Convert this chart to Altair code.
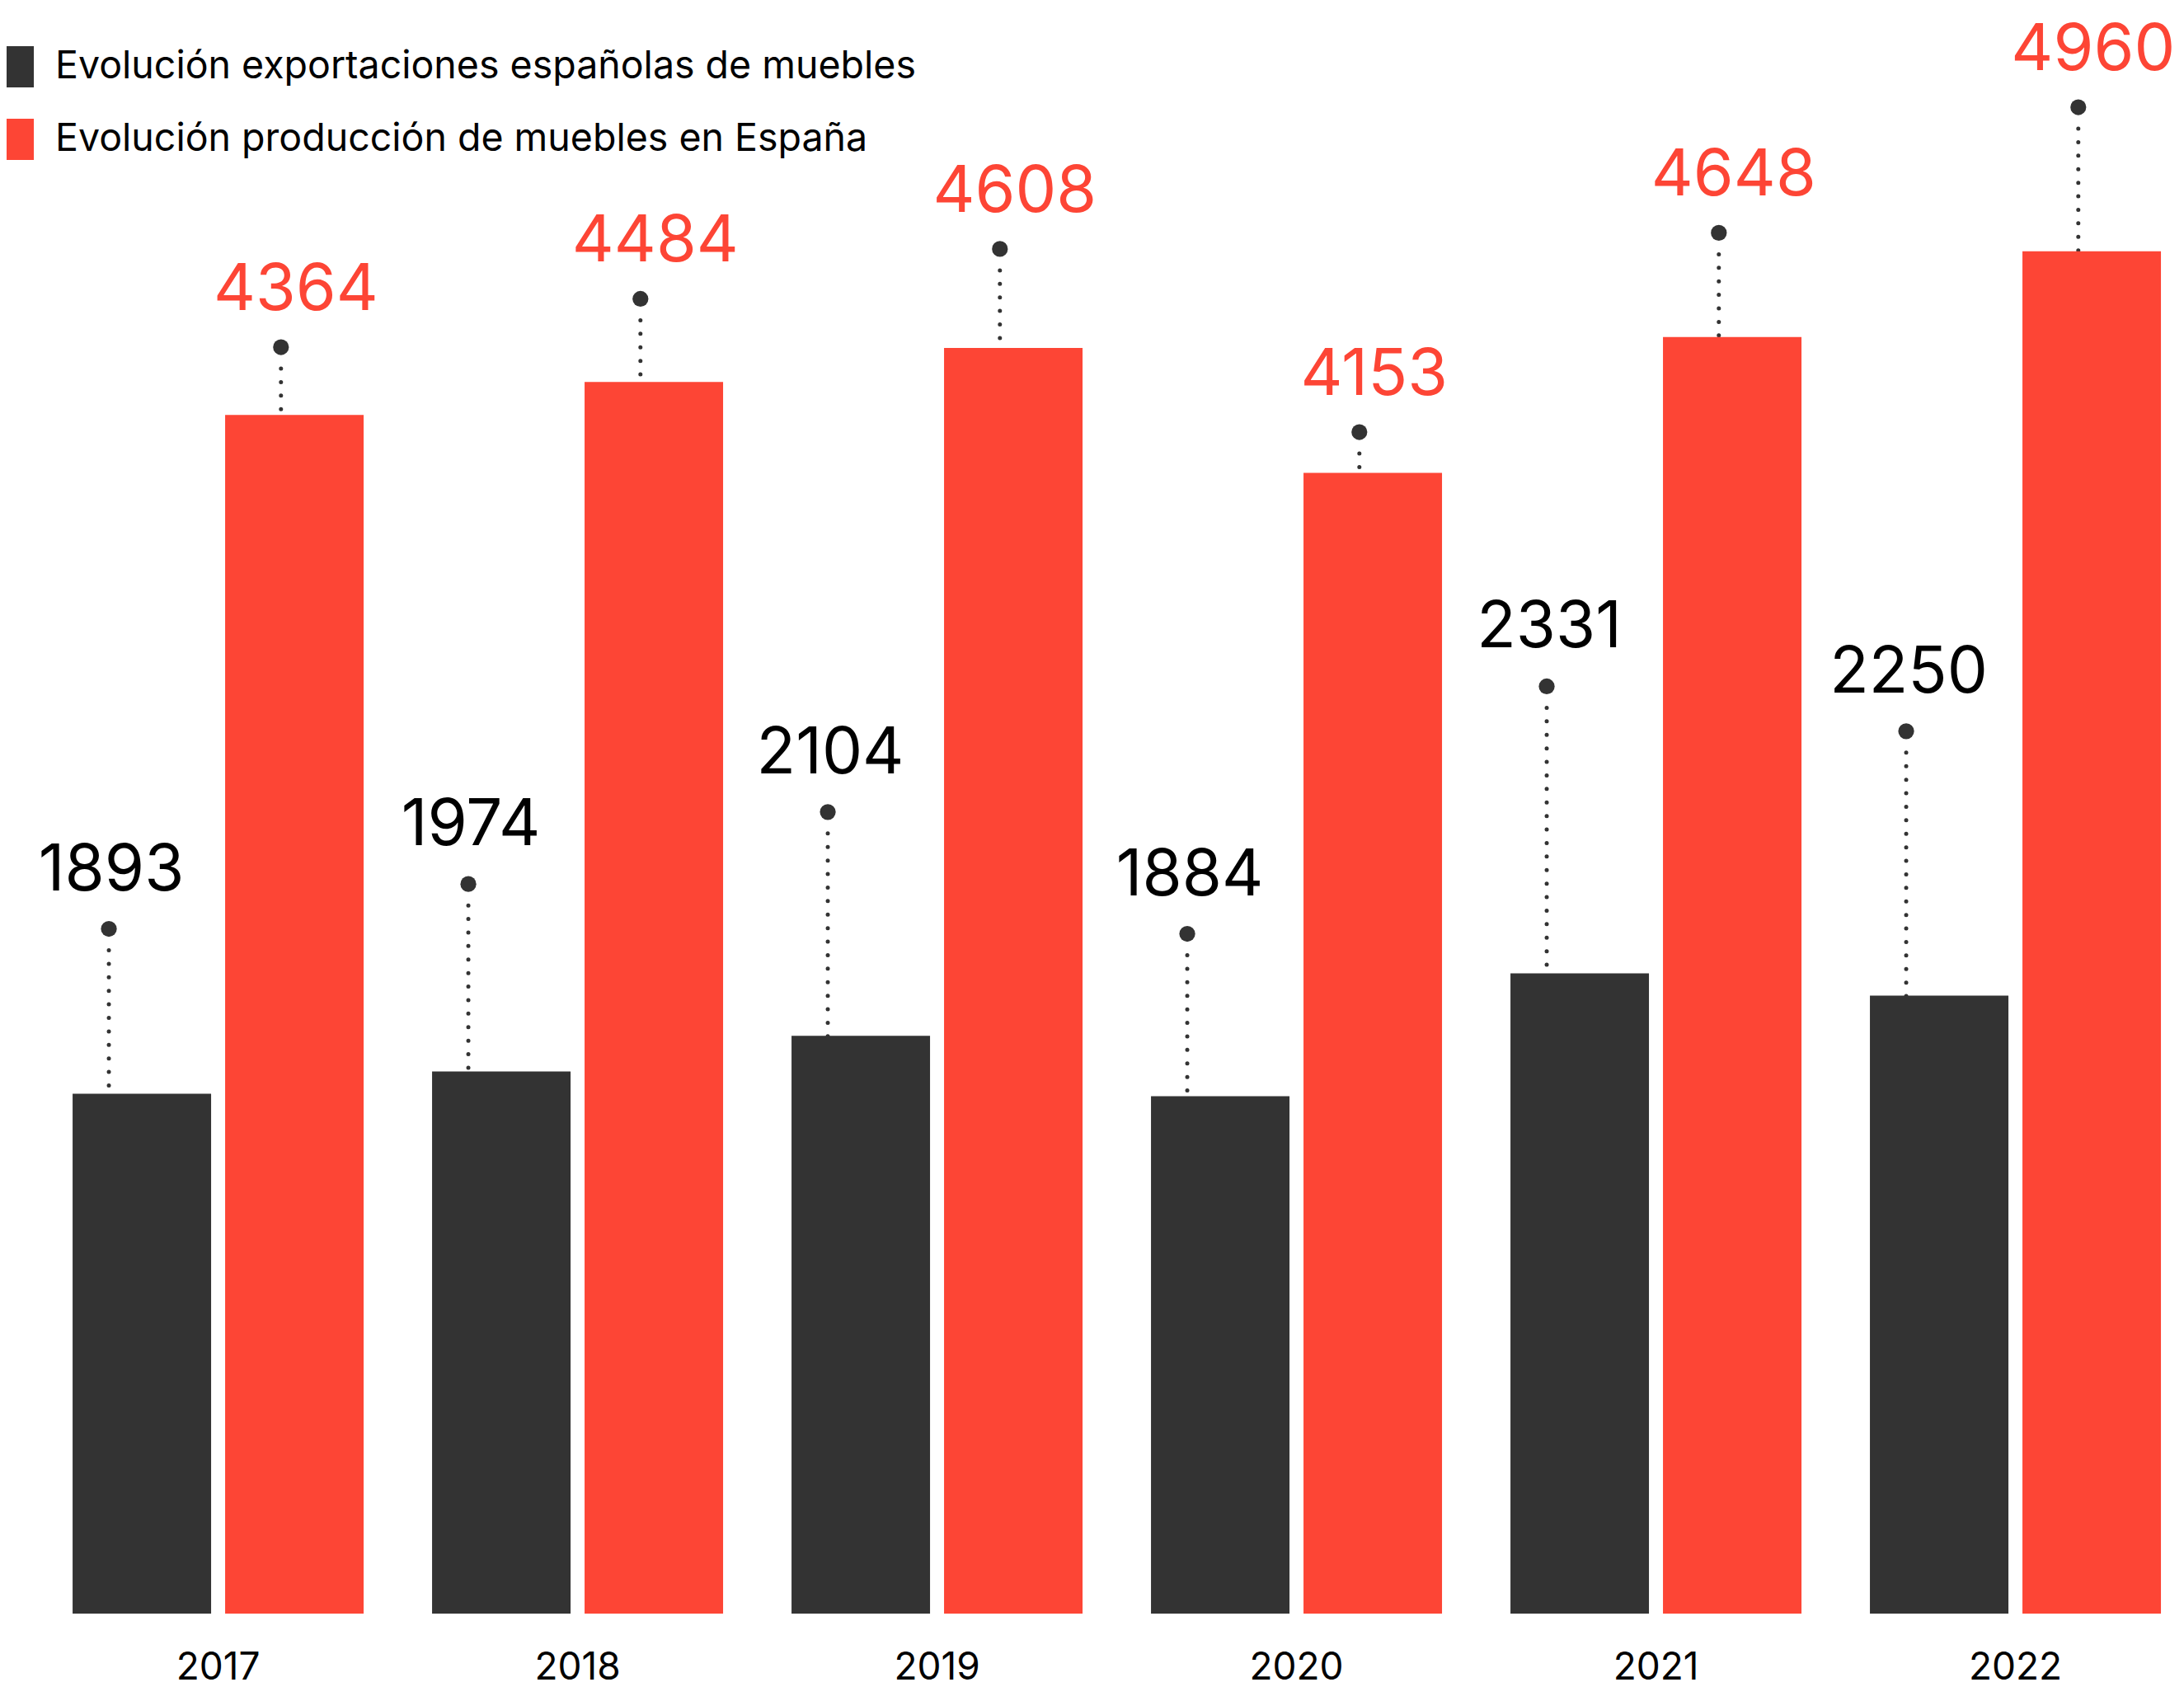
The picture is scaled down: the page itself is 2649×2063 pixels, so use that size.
import altair as alt
import pandas as pd

# ---- data ----
years = ["2017", "2018", "2019", "2020", "2021", "2022"]
exportaciones = [1893, 1974, 2104, 1884, 2331, 2250]
produccion = [4364, 4484, 4608, 4153, 4648, 4960]
series_names = [
    "Evolución exportaciones españolas de muebles",
    "Evolución producción de muebles en España",
]
colors = ["#333333", "#FD4535"]

rows = []
for yr, e, p in zip(years, exportaciones, produccion):
    rows.append({"year": yr, "series": series_names[0], "value": e})
    rows.append({"year": yr, "series": series_names[1], "value": p})
df = pd.DataFrame(rows)

W, H = 2620, 1949
FONT = "Inter"
DOT = "#333333"

x_scale = alt.Scale(domain=years, paddingInner=0.1904, paddingOuter=0.0998, align=0.92)
x_axis = alt.Axis(title=None, labelAngle=0, ticks=False, domain=False, grid=False,
                  labelFont=FONT, labelFontSize=46, labelColor="#000000", labelPadding=43)


def xenc(band_pos=None):
    if band_pos is None:
        return alt.X("year:N", scale=x_scale, axis=x_axis)
    return alt.X("year:N", scale=x_scale, axis=x_axis, bandPosition=band_pos)


bar_scale = alt.Scale(domain=[0, 5851], nice=False, zero=True)
dark_scale = alt.Scale(domain=[656, 3559], nice=False, zero=False)
red_scale = alt.Scale(domain=[1218, 5210], nice=False, zero=False)

base = alt.Chart(df)
dark = base.transform_filter(alt.datum.series == series_names[0])
red = base.transform_filter(alt.datum.series == series_names[1])

DARK_POS = 0.1246
RED_POS = 0.716

rule_style = dict(color=DOT, strokeWidth=5, strokeDash=[0, 16.4], strokeCap="round", yOffset=26)

dark_rule = dark.mark_rule(**rule_style).encode(
    x=xenc(DARK_POS),
    y=alt.Y("value:Q", scale=dark_scale, axis=None),
    y2=alt.value(H - 8),
)
red_rule = red.mark_rule(**rule_style).encode(
    x=xenc(RED_POS),
    y=alt.Y("value:Q", scale=red_scale, axis=None),
    y2=alt.value(H - 8),
)

bars = base.mark_bar().encode(
    x=xenc(),
    xOffset=alt.XOffset("series:N", scale=alt.Scale(domain=series_names, paddingInner=0.0919, paddingOuter=0)),
    y=alt.Y("value:Q", scale=bar_scale, axis=None),
    color=alt.Color(
        "series:N",
        scale=alt.Scale(domain=series_names, range=colors),
        legend=alt.Legend(
            title=None, orient="none", legendX=0, legendY=48, direction="vertical",
            symbolType="M-1,-1H0.32V1H-1Z", symbolSize=2500, symbolStrokeWidth=0,
            symbolOpacity=1, labelFont=FONT, labelFontSize=46.5, labelColor="#000000",
            labelLimit=2000, labelOffset=9, rowPadding=38, padding=0,
        ),
    ),
)

dark_dots = dark.mark_circle(size=370, color=DOT, opacity=1).encode(
    x=xenc(DARK_POS),
    y=alt.Y("value:Q", scale=dark_scale, axis=None),
)
red_dots = red.mark_circle(size=370, color=DOT, opacity=1).encode(
    x=xenc(RED_POS),
    y=alt.Y("value:Q", scale=red_scale, axis=None),
)

dark_labels = dark.mark_text(font=FONT, fontSize=78, color="#000000", dy=-47, dx=3,
                             baseline="alphabetic", align="center").encode(
    x=xenc(DARK_POS),
    y=alt.Y("value:Q", scale=dark_scale, axis=None),
    text=alt.Text("value:Q", format="d"),
)
red_labels = red.mark_text(font=FONT, fontSize=79, color=colors[1], dy=-45, dx=18,
                           baseline="alphabetic", align="center").encode(
    x=xenc(RED_POS),
    y=alt.Y("value:Q", scale=red_scale, axis=None),
    text=alt.Text("value:Q", format="d"),
)

chart = (
    alt.layer(dark_rule, red_rule, bars, dark_dots, red_dots, dark_labels, red_labels)
    .resolve_scale(y="independent")
    .properties(width=W, height=H,
                padding={"top": 0, "left": 0, "right": 2, "bottom": 4},
                background="#ffffff")
    .configure_view(stroke="transparent")
)

chart.save("out.html", embed_options={"renderer": "svg", "actions": False})
